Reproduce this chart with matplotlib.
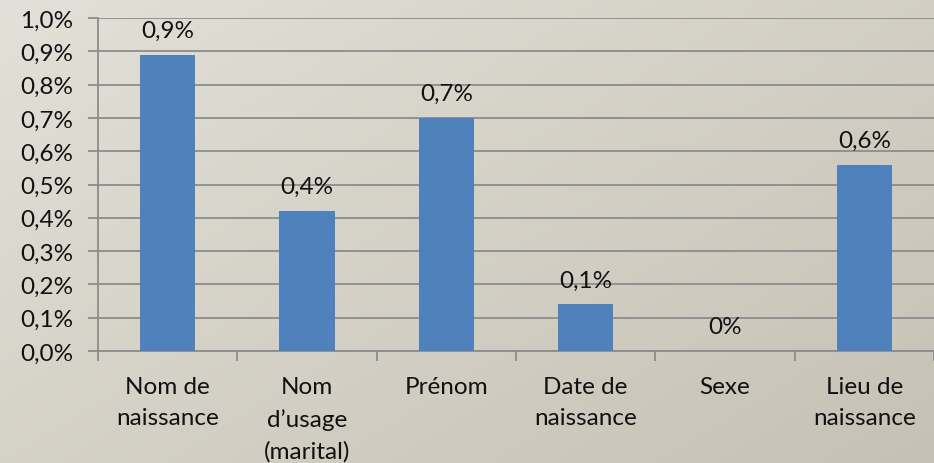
import matplotlib.pyplot as plt
import numpy as np
from matplotlib.ticker import FuncFormatter

categories = ["Nom de\nnaissance", "Nom\nd\u2019usage\n(marital)", "Pr\u00e9nom",
              "Date de\nnaissance", "Sexe", "Lieu de\nnaissance"]
values = [0.89, 0.42, 0.70, 0.14, 0.0, 0.56]  # percent

plt.rcParams['font.family'] = ['Lato', 'DejaVu Sans']
FS = 17.5

fig = plt.figure(figsize=(9.34, 4.64), dpi=100)

# textured beige background, lighter top-left, darker bottom-right
bg = fig.add_axes([0, 0, 1, 1], zorder=-10)
yy, xx = np.mgrid[0:1:200j, 0:1:400j]
t = 0.55 * xx + 0.45 * yy
light = np.array([226, 224, 216]) / 255
dark = np.array([198, 193, 180]) / 255
img = light[None, None, :] * (1 - t[..., None]) + dark[None, None, :] * t[..., None]
bg.imshow(img, aspect='auto', extent=[0, 1, 0, 1], origin='upper')
bg.axis('off')

ax = fig.add_axes([98 / 934, 1 - 352 / 464, 1 - 98 / 934, 333 / 464])
ax.patch.set_alpha(0)

x = np.arange(len(categories))
ax.bar(x, values, width=0.395, color='#4F81BD', zorder=3)

for xi, v in zip(x, values):
    label = "0%" if v == 0 else f"{v:.1f}%".replace('.', ',')
    ax.annotate(label, (xi, v), xytext=(0, 10), textcoords='offset points',
                ha='center', va='bottom', fontsize=FS, color='#111111')

ax.set_ylim(0, 1.0)
ax.set_xlim(-0.5, len(categories) - 0.5)
ax.set_yticks(np.arange(0, 1.01, 0.1))
ax.yaxis.set_major_formatter(FuncFormatter(lambda v, p: f"{v:.1f}%".replace('.', ',')))
ax.grid(axis='y', color='#8c8c8c', linewidth=1.3, zorder=0)

ax.set_xticks(x)
ax.set_xticklabels(categories, fontsize=FS, linespacing=1.6, va='top', color='#111111')
ax.set_xticks(np.arange(-0.5, len(categories), 1), minor=True)
ax.tick_params(axis='x', which='major', length=0, pad=18)
ax.tick_params(axis='x', which='minor', length=7, color='#8c8c8c', width=1.3)
ax.tick_params(axis='y', length=7, color='#8c8c8c', width=1.3, labelsize=FS,
               labelcolor='#111111', pad=11)

for side in ['top', 'right']:
    ax.spines[side].set_visible(False)
for side in ['left', 'bottom']:
    ax.spines[side].set_color('#8c8c8c')
    ax.spines[side].set_linewidth(1.3)

fig.savefig('out.png', dpi=100)
